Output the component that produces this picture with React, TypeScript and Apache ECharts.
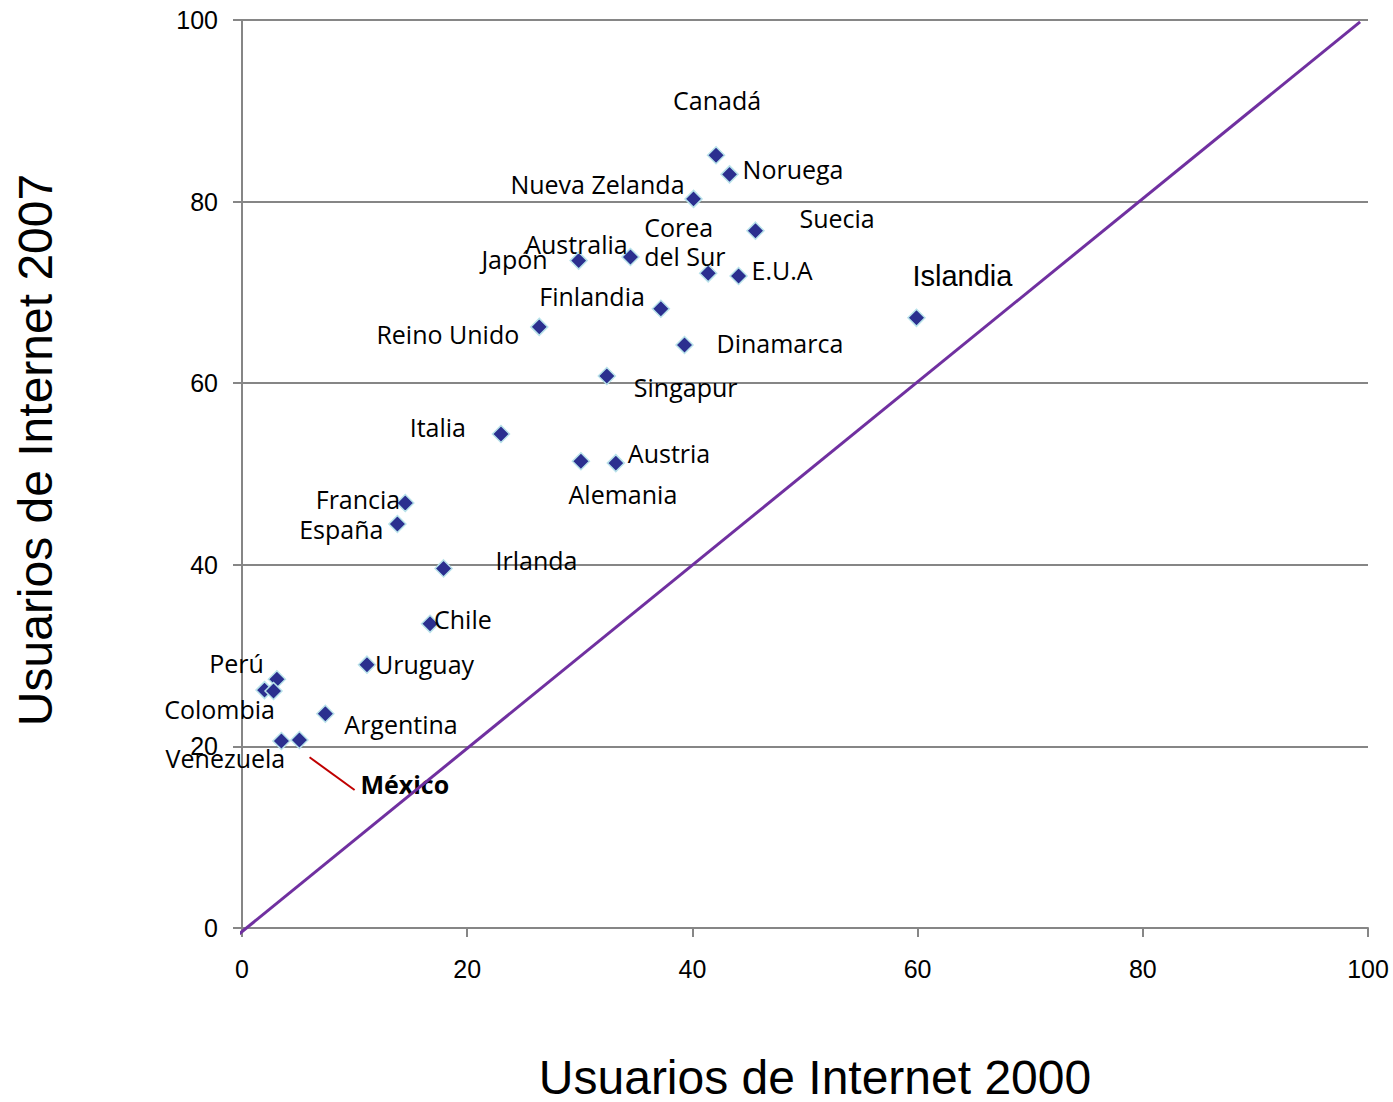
import React, { useEffect, useRef } from "react";
import * as echarts from "echarts";

// Countries (labels) and values
const countries = [
  "Canadá", "Noruega", "Nueva Zelanda", "Suecia", "Japón", "Australia",
  "Corea\ndel Sur", "E.U.A", "Finlandia", "Reino Unido", "Dinamarca", "Islandia",
  "Singapur", "Italia", "Alemania", "Austria", "Francia", "España", "Irlanda",
  "Chile", "Uruguay", "Perú", "Colombia", "", "Argentina", "Venezuela", "México",
];
const users2000 = [
  42.1, 43.3, 40.1, 45.6, 29.9, 34.5,
  41.4, 44.1, 37.2, 26.4, 39.3, 59.9,
  32.4, 23.0, 30.1, 33.2, 14.5, 13.8, 17.9,
  16.7, 11.1, 3.1, 2.0, 2.8, 7.4, 3.5, 5.1,
];
const users2007 = [
  85.1, 83.0, 80.3, 76.8, 73.5, 73.9,
  72.1, 71.8, 68.2, 66.2, 64.2, 67.2,
  60.8, 54.4, 51.4, 51.2, 46.8, 44.5, 39.6,
  33.5, 29.0, 27.4, 26.2, 26.1, 23.6, 20.6, 20.7,
];
const diagonalX = [-0.5, 99.3];
const diagonalY = [-0.9, 99.8];
const leaderX = [6.0, 10.0];
const leaderY = [18.8, 15.2];
const axisTicks = [0, 20, 40, 60, 80, 100];
const xTitle = "Usuarios de Internet 2000";
const yTitle = "Usuarios de Internet 2007";

// label layout (style): [align, dx, dy]
const labelLayout: Record<string, [string, number, number]> = {
  "Canadá": ["center", 1, -55],
  "Noruega": ["left", 13, -5],
  "Nueva Zelanda": ["right", -9, -15],
  "Suecia": ["left", 44, -13],
  "Japón": ["right", -31, -2],
  "Australia": ["center", -54, -13],
  "Corea\ndel Sur": ["left", -64, -32],
  "E.U.A": ["left", 13, -6],
  "Finlandia": ["right", -16, -13],
  "Reino Unido": ["right", -20, 7],
  "Dinamarca": ["left", 32, -2],
  "Islandia": ["left", -4, -42],
  "Singapur": ["left", 27, 11],
  "Italia": ["right", -35, -7],
  "Alemania": ["center", 42, 33],
  "Austria": ["left", 12, -10],
  "Francia": ["right", -5, -4],
  "España": ["right", -14, 5],
  "Irlanda": ["left", 52, -8],
  "Chile": ["left", 4, -5],
  "Uruguay": ["left", 8, -1],
  "Perú": ["right", -13, -16],
  "Colombia": ["center", -45, 19],
  "Argentina": ["left", 19, 10],
  "Venezuela": ["center", -56, 17],
  "México": ["left", 61, 44],
};

const LABEL_FONT = "'Open Sans', sans-serif";
const AXIS_FONT = "'Liberation Sans', Arial, sans-serif";

export default function App() {
  const ref = useRef<HTMLDivElement>(null);
  useEffect(() => {
    if (!ref.current) return;
    const chart = echarts.init(ref.current, undefined, { renderer: "svg" });

    const points = countries.map((name, i) => {
      const lay = labelLayout[name];
      const item: any = { name, value: [users2000[i], users2007[i]] };
      if (!lay) {
        item.label = { show: false };
      } else {
        item.label = {
          show: true,
          position: "inside",
          align: lay[0],
          verticalAlign: "middle",
          offset: [lay[1], lay[2]],
        };
        if (name === "Islandia") {
          item.label.fontFamily = AXIS_FONT;
          item.label.fontSize = 29;
        }
        if (name === "México") {
          item.label.fontWeight = "bold";
        }
      }
      return item;
    });

    chart.setOption({
      animation: false,
      backgroundColor: "#ffffff",
      grid: { left: 242, top: 20, right: 25, bottom: 174, containLabel: false },
      xAxis: {
        type: "value",
        min: axisTicks[0],
        max: axisTicks[axisTicks.length - 1],
        interval: 20,
        axisLine: { show: true, onZero: false, lineStyle: { color: "#868686", width: 2 } },
        axisTick: { show: true, length: 9, lineStyle: { color: "#868686", width: 2 } },
        axisLabel: { color: "#000", fontSize: 25, fontFamily: AXIS_FONT, margin: 28 },
        splitLine: { show: false },
      },
      yAxis: {
        type: "value",
        min: axisTicks[0],
        max: axisTicks[axisTicks.length - 1],
        interval: 20,
        axisLine: { show: true, onZero: false, lineStyle: { color: "#868686", width: 2 } },
        axisTick: { show: true, length: 9, lineStyle: { color: "#868686", width: 2 } },
        axisLabel: { color: "#000", fontSize: 25, fontFamily: AXIS_FONT, margin: 24 },
        splitLine: { show: true, lineStyle: { color: "#868686", width: 2 } },
      },
      graphic: [
        {
          type: "text",
          x: 815,
          y: 1077,
          style: {
            text: xTitle,
            align: "center",
            verticalAlign: "middle",
            fontFamily: AXIS_FONT,
            fontSize: 48,
            fill: "#000",
          },
        },
        {
          type: "text",
          x: 35,
          y: 450,
          rotation: Math.PI / 2,
          style: {
            text: yTitle,
            align: "center",
            verticalAlign: "middle",
            fontFamily: AXIS_FONT,
            fontSize: 48,
            fill: "#000",
          },
        },
      ],
      series: [
        {
          type: "scatter",
          z: 2,
          symbol: "diamond",
          symbolSize: 17,
          itemStyle: { color: "#2B2F8F", borderColor: "#B8E2EA", borderWidth: 1.5, opacity: 1 },
          label: {
            color: "#000",
            fontSize: 25,
            fontFamily: LABEL_FONT,
            lineHeight: 29,
            formatter: "{b}",
          },
          data: points,
        },
        {
          type: "line",
          z: 3,
          clip: false,
          symbol: "none",
          lineStyle: { color: "#7030A0", width: 3 },
          data: diagonalX.map((x, i) => [x, diagonalY[i]]),
        },
        {
          type: "line",
          z: 3,
          symbol: "none",
          lineStyle: { color: "#C00000", width: 2 },
          data: leaderX.map((x, i) => [x, leaderY[i]]),
        },
      ],
    });
    return () => chart.dispose();
  }, []);
  return (
    <div
      ref={ref}
      style={{ position: "fixed", left: 0, top: 0, width: 1393, height: 1102 }}
    />
  );
}
